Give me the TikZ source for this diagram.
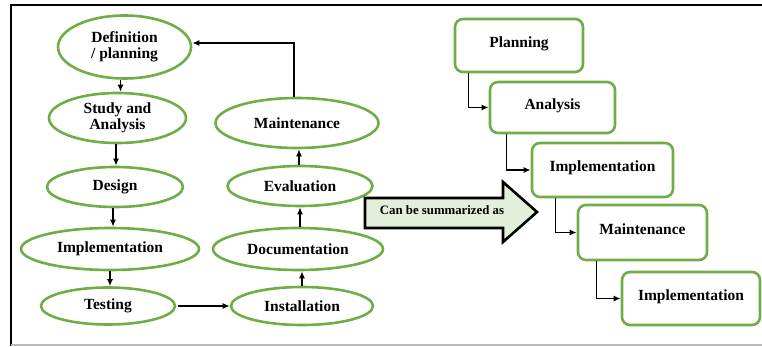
\documentclass[tikz,border=0pt]{standalone}
\usepackage{fontspec}
\setmainfont{Liberation Serif}
\usetikzlibrary{shapes.geometric,arrows.meta}
\definecolor{leaf}{HTML}{70AD47}
\definecolor{pale}{HTML}{E2EFDA}
\tikzset{
  phase/.style={ellipse, draw=leaf, line width=2.6pt, fill=white, inner sep=0pt,
    align=center, font=\fontsize{15.5}{16.5}\selectfont\bfseries},
  stage/.style={rectangle, rounded corners=8pt, draw=leaf, line width=2.6pt, fill=white,
    inner sep=0pt, text height=10pt, text depth=6pt, font=\fontsize{15.5}{16.5}\selectfont\bfseries},
  conn/.style={line width=1.5pt, -{Latex[length=7pt,width=6pt]}},
}
\begin{document}
\begin{tikzpicture}[x=1pt,y=-1pt]
        \useasboundingbox (0,0) rectangle (762,347);
        \draw [line width=2pt]        (762,5) -- (11,5) -- (11,346);            %frame
        \draw [line width=1.5pt, gray!55] (11,345) -- (762,345);               %
        % waterfall on the left
        \node [phase, minimum width=133, minimum height=63] (defn)  at (124.5,47)  {Definition\\/ planning};
        \node [phase, minimum width=137, minimum height=50] (study) at (117.5,118) {Study and\\Analysis};
        \node [phase, minimum width=136, minimum height=40] (design) at (115,187)  {Design};
        \node [phase, minimum width=178, minimum height=42] (impl)  at (110,249)   {Implementation};
        \node [phase, minimum width=134, minimum height=37] (test)  at (108,306)   {Testing};
        \node [phase, minimum width=142, minimum height=38] (inst)  at (302,306)   {Installation};
        \node [phase, minimum width=170, minimum height=42] (docu)  at (298,249)   {Documentation};
        \node [phase, minimum width=145, minimum height=40] (eval)  at (300,186)   {Evaluation};
        \node [phase, minimum width=163, minimum height=50] (maint) at (297,123)   {Maintenance};
        \draw [conn] ([xshift=-4pt]defn.south)   -- ([xshift=-4pt]defn.south |- study.north);   %
        \draw [conn] ([xshift=-1.5pt]study.south) -- ([xshift=-1.5pt]study.south |- design.north); %
        \draw [conn] ([xshift=-2pt]design.south) -- ([xshift=-2pt]design.south |- impl.north);  %
        \draw [conn] (impl.south)                -- (impl.south |- test.north);                 %
        \draw [conn] ([xshift=2pt]test.east)     -- (inst.west);                                %
        \draw [conn] (inst.north)                -- (inst.north |- docu.south);                 %
        \draw [conn] ([xshift=2pt]docu.north)    -- ([xshift=2pt]docu.north |- eval.south);     %
        \draw [conn] ([xshift=-1pt]eval.north)   -- ([xshift=-1pt]eval.north |- maint.south);   %
        \draw [conn] ([xshift=-3pt]maint.north)  |- ([yshift=4pt]defn.east);                    %back loop
        % big arrow
        \draw [line width=2.6pt, fill=pale, line join=miter]
              (365,198) -- (503,198) -- (503,182) -- (537,212) -- (503,242) -- (503,228) -- (365,228) -- cycle;
        \node [font=\fontsize{12.8}{14}\selectfont\bfseries] (summ) at (442,210) {Can be summarized as};
        % summary on the right
        \node [stage, minimum width=128, minimum height=53] (plan)  at (519,45.5)  {Planning};
        \node [stage, minimum width=125, minimum height=51] (ana)   at (552.5,107.5) {Analysis};
        \node [stage, minimum width=141, minimum height=54] (impa)  at (602.5,170) {Implementation};
        \node [stage, minimum width=129, minimum height=55] (mnt)   at (642.5,232.5) {Maintenance};
        \node [stage, minimum width=138, minimum height=53] (impb)  at (691,298.5) {Implementation};
        \draw [conn] ([xshift=15pt]plan.south west) |- (ana);   %
        \draw [conn] ([xshift=18pt]ana.south west)  |- (impa);  %
        \draw [conn] ([xshift=25pt]impa.south west) |- (mnt);   %
        \draw [conn] ([xshift=20pt]mnt.south west)  |- (impb);  %
\end{tikzpicture}
\end{document}
